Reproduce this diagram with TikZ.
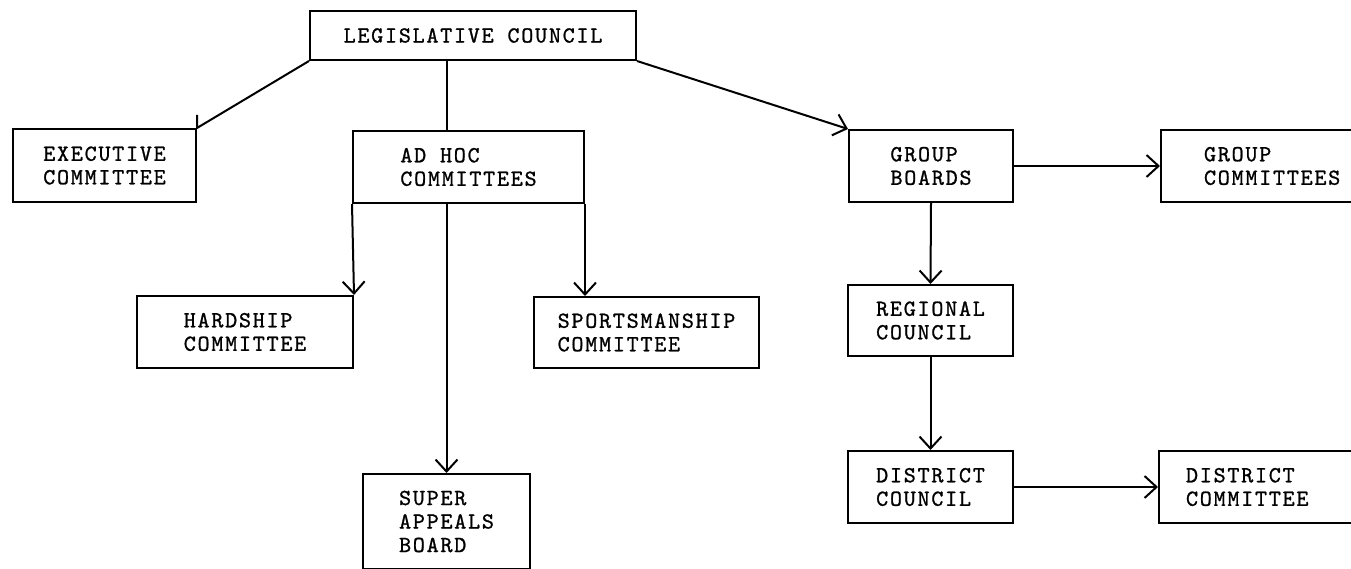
\documentclass[tikz,border=0pt]{standalone}
\usepackage{fontspec}
\newfontfamily\typew{lmmono10-regular.otf}[LetterSpace=7.5,FakeBold=1]
\usetikzlibrary{arrows.meta,calc}
\begin{document}
\begin{tikzpicture}[x=1pt,y=-1pt,
  box/.style={draw, line width=2pt, anchor=north west, inner sep=0pt, align=left,
    font=\fontsize{23}{23.5}\selectfont\typew},
  ln/.style={line width=2pt},
  arr/.style={line width=2pt, -{Straight Barb[length=12pt,width=22pt,line width=2pt]}}]
\useasboundingbox (0,0) rectangle (1351,569);
\clip (0,0) rectangle (1351,569);
\node[box, minimum width=326pt, minimum height=49pt] (lc) at (309,10) {LEGISLATIVE COUNCIL};
\node[box, minimum width=183pt, minimum height=73pt] (exec) at (12,128) {EXECUTIVE\\COMMITTEE};
\node[box, minimum width=231pt, minimum height=72pt] (adhoc) at (352,130) {AD HOC\\COMMITTEES};
\node[box, minimum width=164pt, minimum height=72pt] (gb) at (848,129) {GROUP\\BOARDS};
\node[box, minimum height=72pt, inner xsep=43pt, text width=220pt] (gc) at (1160,129) {GROUP\\COMMITTEES};
\node[box, minimum width=216pt, minimum height=72pt] (hard) at (136,295) {HARDSHIP\\COMMITTEE};
\node[box, minimum width=225pt, minimum height=71pt] (sport) at (533,296) {SPORTSMANSHIP\\COMMITTEE};
\node[box, minimum width=167pt, minimum height=95pt] (sab) at (362,473) {SUPER\\APPEALS\\BOARD};
\node[box, minimum width=165pt, minimum height=71pt] (rc) at (847,284) {REGIONAL\\COUNCIL};
\node[box, minimum width=165pt, minimum height=72pt] (dc) at (847,450) {DISTRICT\\COUNCIL};
\node[box, minimum height=72pt, inner xsep=27pt, text width=220pt] (dcom) at (1158,450) {DISTRICT\\COMMITTEE};

\draw[ln] (lc.south west) -- (exec.north east) -- ++(0,-13);
\draw[ln] (lc.south -| sab.north) -- (adhoc.north -| sab.north);
\draw[arr] (lc.south east) -- (gb.north west);
\draw[arr] (adhoc.south west) -- (hard.north east);
\draw[arr] (adhoc.south east) -- (adhoc.south east |- sport.north);
\draw[arr] (adhoc.south -| sab.north) -- (sab.north);
\draw[arr] (gb.east) -- (gc.west);
\draw[arr] (gb.south) -- (rc.north);
\draw[arr] (rc.south) -- (dc.north);
\draw[arr] (dc.east) -- (dcom.west);
\end{tikzpicture}
\end{document}
